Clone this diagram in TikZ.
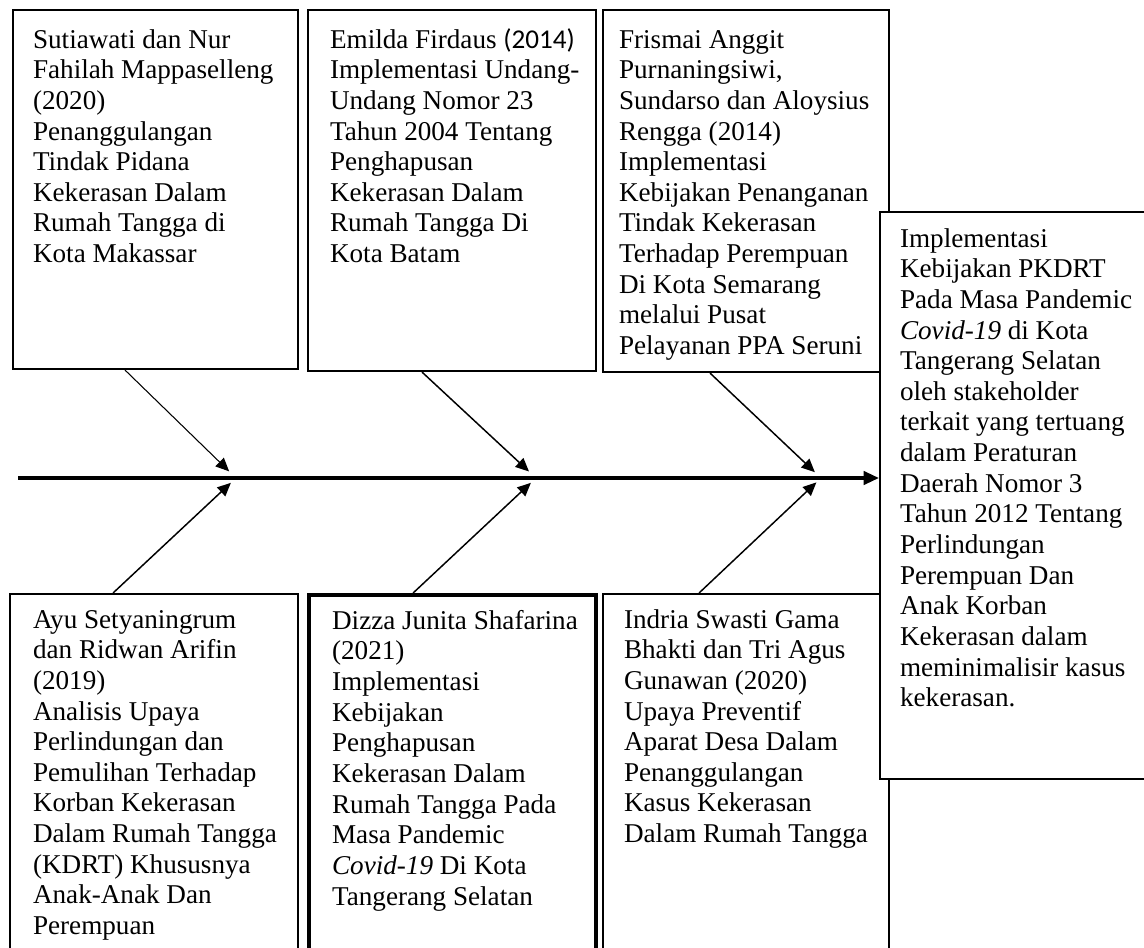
\documentclass[tikz,border=0pt]{standalone}
\usepackage{fontspec}
\setmainfont{Liberation Serif}
\newfontfamily\calibri{Carlito}
\usetikzlibrary{arrows.meta,calc}
\newdimen\px \px=0.025cm
% text cell: width, height, left pad, first baseline, text
\newcommand{\cell}[5]{\parbox[t][#2\px][t]{#1\px}{\raggedright\leftskip=#3\px\rule{0pt}{#4\px}#5}}

\begin{document}
\begin{tikzpicture}[x=0.025cm, y=-0.025cm]
      % styles
      \tikzstyle{box} = [draw, line width=1.5pt, inner sep=0pt, anchor=north west, fill=white, font={\fontsize{19.3pt}{21.8pt}\selectfont}]
      \tikzstyle{thickbox} = [box, line width=3pt]
      \tikzstyle{bone} = [-{Triangle[length=9.5pt,width=8.5pt]}, line width=1.05pt]
      \tikzstyle{spine} = [-{Triangle[length=11pt,width=9.5pt]}, line width=2.5pt]

      \useasboundingbox (0,0) rectangle (1144,947);

      % top row
      \node[box] (t1) at (12,9) {\cell{285}{359}{20}{38}{Sutiawati dan Nur\\ Fahilah Mappaselleng\\ (2020)\\ Penanggulangan\\ Tindak Pidana\\ Kekerasan Dalam\\ Rumah Tangga di\\ Kota Makassar}};
      \node[box] (t2) at (307,9) {\cell{288}{361}{22}{38}{Emilda Firdaus {\calibri (2014)}\\ Implementasi Undang-\\ Undang Nomor 23\\ Tahun 2004 Tentang\\ Penghapusan\\ Kekerasan Dalam\\ Rumah Tangga Di\\ Kota Batam}};
      \node[box] (t3) at (602,9) {\cell{286}{362}{16}{38}{Frismai Anggit\\ Purnaningsiwi,\\ Sundarso dan Aloysius\\ Rengga (2014)\\ Implementasi\\ Kebijakan Penanganan\\ Tindak Kekerasan\\ Terhadap Perempuan\\ Di Kota Semarang\\ melalui Pusat\\ Pelayanan PPA Seruni}};

      % bottom row
      \node[box] (b1) at (9,593) {\cell{288}{370}{23}{34}{Ayu Setyaningrum\\ dan Ridwan Arifin\\ (2019)\\ Analisis Upaya\\ Perlindungan dan\\ Pemulihan Terhadap\\ Korban Kekerasan\\ Dalam Rumah Tangga\\ (KDRT) Khususnya\\ Anak-Anak Dan\\ Perempuan}};
      \node[thickbox] (b2) at (307,593) {\cell{287}{370}{23}{34}{Dizza Junita Shafarina\\ (2021)\\ Implementasi\\ Kebijakan\\ Penghapusan\\ Kekerasan Dalam\\ Rumah Tangga Pada\\ Masa Pandemic\\ \textit{Covid-19} Di Kota\\ Tangerang Selatan}};
      \node[box] (b3) at (602,593) {\cell{286}{370}{21}{34}{Indria Swasti Gama\\ Bhakti dan Tri Agus\\ Gunawan (2020)\\ Upaya Preventif\\ Aparat Desa Dalam\\ Penanggulangan\\ Kasus Kekerasan\\ Dalam Rumah Tangga}};

      % effect
      \node[box] (goal) at (879,211) {\cell{271}{567}{20}{35}{Implementasi\\ Kebijakan PKDRT\\ Pada Masa Pandemic\\ \textit{Covid-19} di Kota\\ Tangerang Selatan\\ oleh stakeholder\\ terkait yang tertuang\\ dalam Peraturan\\ Daerah Nomor 3\\ Tahun 2012 Tentang\\ Perlindungan\\ Perempuan Dan\\ Anak Korban\\ Kekerasan dalam\\ meminimalisir kasus\\ kekerasan.}};

      % spine
      \coordinate (tail) at (18,478);
      \coordinate (j1) at (236,478);
      \coordinate (j2) at (536,478);
      \coordinate (j3) at (821,478);
      \draw[spine] (tail) -- (tail -| goal.west);

      % bones
      \draw[bone, line width=0.75pt, shorten >=6.8pt] ($(t1.south)+(-30.5,0)$) -- (j1);
      \draw[bone, shorten >=6.8pt] ($(t2.south)+(-30,0)$) -- (j2);
      \draw[bone, shorten >=6pt] ($(t3.south)+(-36,0)$) -- (j3);
      \draw[bone, shorten >=5pt] ($(b1.north)+(-41,0)$) -- (j1);
      \draw[bone, shorten >=5pt] ($(b2.north)+(-39.5,0)$) -- (j2);
      \draw[bone, shorten >=4.5pt] ($(b3.north)+(-47,0)$) -- (j3);
    \end{tikzpicture}
\end{document}
